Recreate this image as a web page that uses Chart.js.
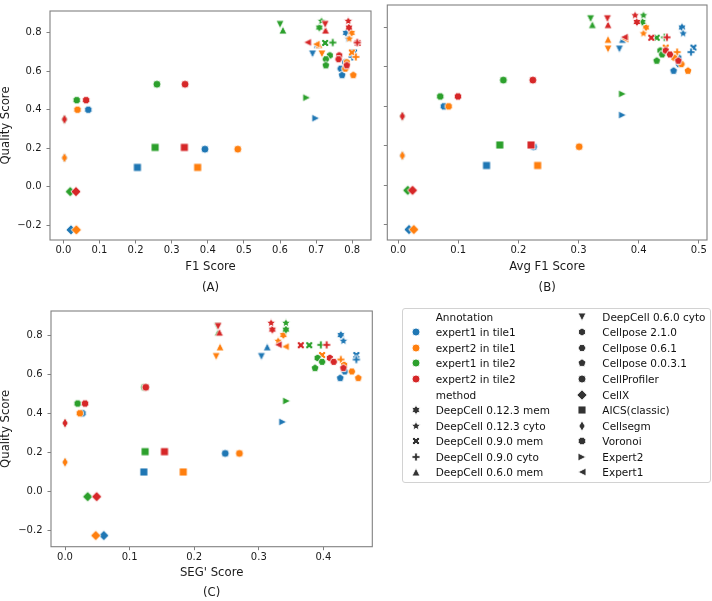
<!DOCTYPE html>
<html><head><meta charset="utf-8">
<script src="https://cdn.jsdelivr.net/npm/chart.js@4/dist/chart.umd.min.js"></script>
<style>
html,body{margin:0;padding:0;background:#fff;width:712px;height:601px;overflow:hidden;font-family:"DejaVu Sans",sans-serif;}
canvas.ch{position:absolute;}
#legendBox{position:absolute;left:401.5px;top:308px;width:309px;height:175px;border:1px solid #d2d2d2;border-radius:3px;box-sizing:border-box;background:#fff;}
.lt{position:absolute;font-size:10.5px;color:#111;white-space:nowrap;line-height:14px;height:14px;}
.lm{position:absolute;}
</style></head><body>
<div id="legendBox"></div>
<canvas id="cA" class="ch" width="380" height="300" style="left:0;top:0"></canvas>
<canvas id="cB" class="ch" width="352" height="300" style="left:360px;top:0"></canvas>
<canvas id="cC" class="ch" width="390" height="305" style="left:0;top:300px"></canvas>
<script>
// ---------------- DATA ----------------
const methods = ['DeepCell 0.12.3 mem','DeepCell 0.12.3 cyto','DeepCell 0.9.0 mem','DeepCell 0.9.0 cyto',
  'DeepCell 0.6.0 mem','DeepCell 0.6.0 cyto','Cellpose 2.1.0','Cellpose 0.6.1','Cellpose 0.0.3.1',
  'CellProfiler','CellX','AICS(classic)','Cellsegm','Voronoi','Expert2','Expert1'];
const annotations = ['expert1 in tile1','expert2 in tile1','expert1 in tile2','expert2 in tile2'];

const qualityTile1 = [0.800, 0.770, 0.698, 0.675, 0.740, 0.690, 0.647, 0.614, 0.580, 0.195, -0.225, 0.100, 0.150, 0.400, 0.356, 0.741];
const qualityTile2 = [0.828, 0.862, 0.748, 0.750, 0.815, 0.844, 0.683, 0.663, 0.631, 0.533, -0.026, 0.204, 0.350, 0.450, 0.463, 0.751];

const f1_expert1_tile1 = [0.783, 0.789, 0.805, 0.800, 0.703, 0.690, 0.780, 0.768, 0.772, 0.392, 0.021, 0.205, 0.003, 0.069, 0.699, null];
const f1_expert2_tile1 = [0.798, 0.792, 0.799, 0.810, 0.708, 0.716, 0.785, 0.781, 0.803, 0.483, 0.036, 0.372, 0.003, 0.039, null, 0.700];
const f1_expert1_tile2 = [0.709, 0.715, 0.725, 0.746, 0.608, 0.600, 0.738, 0.727, 0.727, 0.259, 0.019, 0.254, 0.003, 0.037, 0.674, null];
const f1_expert2_tile2 = [0.791, 0.789, 0.815, 0.814, 0.726, 0.725, 0.764, 0.762, 0.785, 0.337, 0.035, 0.335, 0.003, 0.063, null, 0.676];

const avgF1_expert1_tile1 = [0.472, 0.474, 0.491, 0.487, 0.373, 0.368, 0.466, 0.467, 0.458, 0.225, 0.018, 0.147, 0.007, 0.076, 0.373, null];
const avgF1_expert2_tile1 = [0.412, 0.408, 0.445, 0.464, 0.349, 0.349, 0.459, 0.471, 0.482, 0.301, 0.026, 0.232, 0.007, 0.084, null, 0.377];
const avgF1_expert1_tile2 = [0.406, 0.408, 0.430, 0.443, 0.323, 0.320, 0.436, 0.439, 0.430, 0.175, 0.016, 0.169, 0.007, 0.070, 0.373, null];
const avgF1_expert2_tile2 = [0.397, 0.394, 0.421, 0.447, 0.349, 0.348, 0.445, 0.452, 0.466, 0.224, 0.024, 0.221, 0.007, 0.0995, null, 0.376];

const seg_expert1_tile1 = [0.427, 0.431, 0.451, 0.451, 0.313, 0.304, 0.432, 0.433, 0.426, 0.248, 0.060, 0.122, 0.000, 0.027, 0.337, null];
const seg_expert2_tile1 = [0.338, 0.330, 0.398, 0.427, 0.240, 0.234, 0.432, 0.444, 0.454, 0.270, 0.0475, 0.183, 0.000, 0.023, null, 0.341];
const seg_expert1_tile2 = [0.342, 0.342, 0.378, 0.396, 0.237, 0.236, 0.391, 0.398, 0.387, 0.123, 0.035, 0.124, 0.000, 0.0196, 0.343, null];
const seg_expert2_tile2 = [0.321, 0.319, 0.365, 0.405, 0.239, 0.237, 0.410, 0.416, 0.431, 0.125, 0.049, 0.154, 0.000, 0.031, null, 0.330];

const xTicksA = [0.0, 0.1, 0.2, 0.3, 0.4, 0.5, 0.6, 0.7, 0.8];
const xTicksB = [0.0, 0.1, 0.2, 0.3, 0.4, 0.5];
const xTicksC = [0.0, 0.1, 0.2, 0.3, 0.4];
const yTicks  = [-0.2, 0.0, 0.2, 0.4, 0.6, 0.8];

// ---------------- STYLE ----------------
const annColors = ['#1f77b4', '#ff7f0e', '#2ca02c', '#d62728'];
const methodShapes = ['star6','star5','X','P','^','v','h','H','p','o','D','s','d','8','>','<'];
const MS = 8;
const FONT = "'DejaVu Sans', sans-serif";
const AXC = '#808080';
const TXT = '#1a1a1a';

function markerPath(ctx, shape, S) {
  const r = S / 2;
  ctx.beginPath();
  const poly = pts => { pts.forEach((p, i) => i ? ctx.lineTo(p[0], p[1]) : ctx.moveTo(p[0], p[1])); ctx.closePath(); };
  const regular = (n, rad, rot) => { const pts = []; for (let i = 0; i < n; i++) { const a = rot + i * 2 * Math.PI / n; pts.push([rad * Math.sin(a), -rad * Math.cos(a)]); } poly(pts); };
  const star = (n, ro, ri) => { const pts = []; for (let i = 0; i < 2 * n; i++) { const a = i * Math.PI / n; const rr = i % 2 ? ri : ro; pts.push([rr * Math.sin(a), -rr * Math.cos(a)]); } poly(pts); };
  switch (shape) {
    case 'o': ctx.arc(0, 0, r, 0, 2 * Math.PI); break;
    case '8': regular(8, r, Math.PI / 8); break;
    case 'h': regular(6, r, 0); break;
    case 'H': regular(6, r, Math.PI / 6); break;
    case 'p': regular(5, r * 1.05, 0); break;
    case 'star5': star(5, r * 1.25, r * 1.25 * 0.45); break;
    case 'star6': star(6, r * 1.2, r * 1.2 * 0.6); break;
    case '^': poly([[0, -r], [-r, r], [r, r]]); break;
    case 'v': poly([[0, r], [-r, -r], [r, -r]]); break;
    case '<': poly([[-r, 0], [r, -r], [r, r]]); break;
    case '>': poly([[r, 0], [-r, -r], [-r, r]]); break;
    case 's': poly([[-r, -r], [r, -r], [r, r], [-r, r]]); break;
    case 'D': { const d = r * 1.3; poly([[0, -d], [d, 0], [0, d], [-d, 0]]); break; }
    case 'd': { const d = r * 1.3; poly([[0, -d], [0.6 * d, 0], [0, d], [-0.6 * d, 0]]); break; }
    case 'P': { const k = S / 6; poly([[-1,-3],[1,-3],[1,-1],[3,-1],[3,1],[1,1],[1,3],[-1,3],[-1,1],[-3,1],[-3,-1],[-1,-1]].map(p => [p[0]*k, p[1]*k])); break; }
    case 'X': { const k = S / 4; poly([[-1,-2],[0,-1],[1,-2],[2,-1],[1,0],[2,1],[1,2],[0,1],[-1,2],[-2,1],[-1,0],[-2,-1]].map(p => [p[0]*k, p[1]*k])); break; }
  }
}
const markerCache = {};
function markerImg(shape, color, edge) {
  const key = shape + color + edge;
  if (markerCache[key]) return markerCache[key];
  const c = document.createElement('canvas');
  c.width = 16; c.height = 16;
  const ctx = c.getContext('2d');
  ctx.translate(8, 8);
  markerPath(ctx, shape, MS);
  ctx.fillStyle = color;
  ctx.fill();
  if (edge) { ctx.strokeStyle = '#ffffff'; ctx.lineWidth = 0.9; ctx.stroke(); }
  markerCache[key] = c;
  return c;
}

const framePlugin = {
  id: 'frame',
  afterDatasetsDraw(chart) {
    const { ctx, chartArea: a } = chart;
    ctx.save();
    ctx.strokeStyle = AXC; ctx.lineWidth = 1.1;
    ctx.strokeRect(a.left, a.top, a.right - a.left, a.bottom - a.top);
    ctx.restore();
  }
};

function fmt(v) { return (v < -1e-9 ? '\u2212' : '') + Math.abs(v).toFixed(1); }

function buildDatasets(metricArrays) {
  const qual = [qualityTile1, qualityTile1, qualityTile2, qualityTile2];
  return metricArrays.map((arr, a) => ({
    label: annotations[a],
    data: methods.map((m, i) => ({ x: arr[i], y: qual[a][i], m: i })).filter(p => p.x !== null),
    order: 3 - a,
    pointRadius: 4,
    pointStyle: ctx => markerImg(methodShapes[ctx.raw ? ctx.raw.m : 0], annColors[a], true),
    showLine: false
  }));
}

function makePanel(id, metricArrays, cfg) {
  return new Chart(document.getElementById(id), {
    type: 'scatter',
    data: { datasets: buildDatasets(metricArrays) },
    plugins: [framePlugin],
    options: {
      responsive: false, animation: false, devicePixelRatio: 1,
      layout: { padding: { left: 0, top: cfg.top, right: cfg.right, bottom: 0 } },
      plugins: { legend: { display: false }, tooltip: { enabled: false } },
      scales: {
        x: {
          type: 'linear', min: cfg.xMin, max: cfg.xMax,
          afterBuildTicks: s => { s.ticks = cfg.xTicks.map(v => ({ value: v })); },
          afterFit: s => { s.height = cfg.xH; },
          border: { display: false },
          grid: { drawOnChartArea: false, drawTicks: true, tickLength: 3.5, tickColor: AXC, tickWidth: 1 },
          ticks: { padding: 1.3, color: TXT, font: { family: FONT, size: 10 }, maxRotation: 0, callback: v => fmt(v) },
          title: { display: true, text: [cfg.xTitle, cfg.tag], color: TXT,
                   font: { family: FONT, size: 11.7, lineHeight: cfg.tl + 'px' }, padding: { top: 0, bottom: cfg.tpb } }
        },
        y: {
          type: 'linear', min: cfg.yMin, max: cfg.yMax,
          afterBuildTicks: s => { s.ticks = yTicks.map(v => ({ value: v })); },
          afterFit: s => { s.width = cfg.yW; },
          border: { display: false },
          grid: { drawOnChartArea: false, drawTicks: true, tickLength: 3.5, tickColor: AXC, tickWidth: 1 },
          ticks: { display: cfg.yLabels, padding: 5, color: TXT, font: { family: FONT, size: 10 }, callback: v => fmt(v) },
          title: { display: cfg.yLabels, text: 'Quality Score', color: TXT,
                   font: { family: FONT, size: 11.7, lineHeight: '12px' }, padding: { top: 0, bottom: 0 } }
        }
      }
    }
  });
}

makePanel('cA', [f1_expert1_tile1, f1_expert2_tile1, f1_expert1_tile2, f1_expert2_tile2], {
  top: 1.5, right: 9, xMin: -0.037, xMax: 0.852, yMin: -0.278, yMax: 0.914,
  xTicks: xTicksA, xH: 60, yW: 50, yLabels: true, xTitle: 'F1 Score', tag: '(A)', tl: 21.6, tpb: 0.9
});
makePanel('cB', [avgF1_expert1_tile1, avgF1_expert2_tile1, avgF1_expert1_tile2, avgF1_expert2_tile2], {
  top: 1.5, right: 4, xMin: -0.018, xMax: 0.5136, yMin: -0.278, yMax: 0.914,
  xTicks: xTicksB, xH: 60, yW: 27.3, yLabels: false, xTitle: 'Avg F1 Score', tag: '(B)', tl: 21.6, tpb: 0.9
});
makePanel('cC', [seg_expert1_tile1, seg_expert2_tile1, seg_expert1_tile2, seg_expert2_tile2], {
  top: 5.7, right: 17.7, xMin: -0.0217, xMax: 0.4757, yMin: -0.282, yMax: 0.923,
  xTicks: xTicksC, xH: 58.3, yW: 51, yLabels: true, xTitle: "SEG' Score", tag: '(C)', tl: 20, tpb: 1.7
});

// ---------------- LEGEND ----------------
(function legend() {
  const items = [{ t: 'Annotation' }];
  annotations.forEach((a, i) => items.push({ t: a, shape: 'o', color: annColors[i] }));
  items.push({ t: 'method' });
  methods.forEach((m, i) => items.push({ t: m, shape: methodShapes[i], color: '#333333' }));
  const cols = [{ mx: 416, tx: 435.7 }, { mx: 582.3, tx: 602.3 }];
  items.forEach((it, k) => {
    const col = cols[Math.floor(k / 11)];
    const y = 316.7 + (k % 11) * 15.56;
    const d = document.createElement('div');
    d.className = 'lt'; d.textContent = it.t;
    d.style.left = col.tx + 'px'; d.style.top = (y - 7) + 'px';
    document.body.appendChild(d);
    if (it.shape) {
      const c = markerImg(it.shape, it.color, true);
      const cv = document.createElement('canvas');
      cv.width = 16; cv.height = 16; cv.className = 'lm';
      cv.getContext('2d').drawImage(c, 0, 0);
      cv.style.left = (col.mx - 8) + 'px'; cv.style.top = (y - 8) + 'px';
      document.body.appendChild(cv);
    }
  });
})();
</script>
</body></html>
